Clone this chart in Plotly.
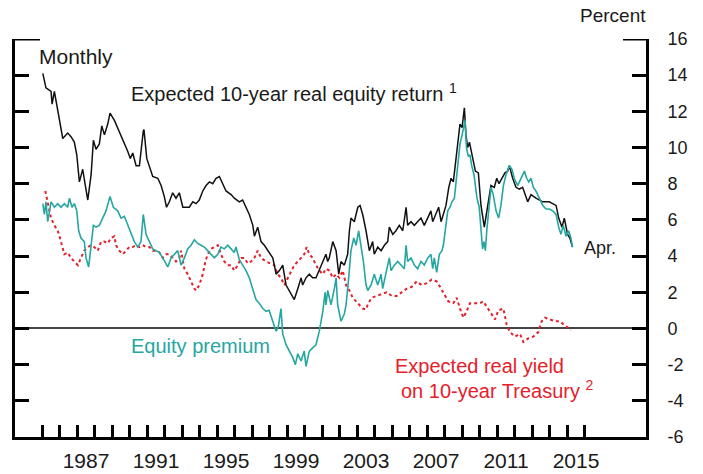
import plotly.graph_objects as go

# ---- Data (decimal years, percent) ----
equity_years = [
    1985.03, 1985.21, 1985.50, 1985.56, 1985.69, 1985.88, 1986.01, 1986.17, 1986.45, 1986.64,
    1986.83, 1986.97, 1987.12, 1987.31, 1987.46, 1987.60, 1987.79, 1987.92, 1988.07, 1988.26,
    1988.40, 1988.55, 1988.74, 1988.87, 1989.12, 1989.40, 1989.69, 1989.88, 1990.03, 1990.17,
    1990.36, 1990.55, 1990.77, 1990.81, 1990.97, 1991.12, 1991.31, 1991.60, 1991.79, 1991.97,
    1992.10, 1992.26, 1992.45, 1992.64, 1992.83, 1993.03, 1993.21, 1993.40, 1993.60, 1993.79,
    1993.97, 1994.17, 1994.36, 1994.55, 1994.74, 1994.93, 1995.12, 1995.31, 1995.50, 1995.79,
    1995.97, 1996.26, 1996.45, 1996.64, 1996.83, 1997.03, 1997.12, 1997.31, 1997.44, 1997.50,
    1997.69, 1997.97, 1998.17, 1998.26, 1998.36, 1998.55, 1998.74, 1998.93, 1999.12, 1999.31,
    1999.40, 1999.60, 1999.79, 1999.88, 2000.07, 2000.26, 2000.45, 2000.64, 2000.83, 2001.03,
    2001.21, 2001.31, 2001.40, 2001.60, 2001.79, 2001.94, 2002.07, 2002.26, 2002.45, 2002.55,
    2002.64, 2002.83, 2003.03, 2003.16, 2003.31, 2003.50, 2003.69, 2003.88, 2003.97, 2004.17,
    2004.36, 2004.55, 2004.74, 2004.83, 2005.03, 2005.21, 2005.40, 2005.60, 2005.79, 2005.88,
    2006.07, 2006.26, 2006.45, 2006.64, 2006.83, 2007.03, 2007.21, 2007.31, 2007.50, 2007.65,
    2007.79, 2007.97, 2008.07, 2008.23, 2008.36, 2008.49, 2008.60, 2008.74, 2008.87, 2008.99,
    2009.12, 2009.21, 2009.31, 2009.41, 2009.60, 2009.75, 2009.92, 2010.07, 2010.26, 2010.45,
    2010.64, 2010.83, 2010.97, 2011.10, 2011.27, 2011.44, 2011.60, 2011.69, 2011.88, 2012.07,
    2012.26, 2012.45, 2012.74, 2012.93, 2013.21, 2013.60, 2013.97, 2014.36, 2014.51, 2014.70,
    2014.83, 2015.02, 2015.15, 2015.30,
]
equity_return = [
    14.1, 13.3, 13.1, 12.4, 13.1, 12.1, 11.4, 10.5, 10.8, 10.6,
    10.3, 9.6, 8.1, 8.8, 7.9, 7.1, 8.5, 10.4, 9.9, 10.2,
    11.2, 10.7, 11.3, 11.9, 11.5, 10.9, 10.2, 9.8, 9.4, 9.7,
    9.0, 9.0, 10.9, 11.0, 9.4, 8.9, 8.4, 8.3, 7.9, 7.3,
    6.7, 7.0, 7.5, 7.2, 7.5, 6.7, 6.7, 6.7, 7.0, 6.9,
    7.1, 7.6, 7.9, 8.1, 8.0, 8.3, 8.4, 8.0, 7.6, 7.4,
    7.2, 7.0, 7.1, 6.7, 6.3, 5.7, 5.1, 5.6, 5.1, 4.8,
    4.6, 4.2, 3.9, 3.5, 3.0, 3.2, 3.5, 2.4, 2.1, 1.8,
    1.6, 2.2, 2.8, 2.4, 2.8, 3.0, 2.8, 2.8, 3.2, 3.7,
    4.1, 3.7, 3.9, 4.8, 4.3, 3.0, 3.7, 3.5, 4.1, 5.4,
    6.1, 5.9, 6.7, 6.8, 6.3, 5.4, 4.3, 4.8, 4.1, 4.5,
    4.3, 4.6, 4.8, 5.6, 5.2, 5.4, 5.7, 5.4, 6.7, 5.7,
    5.9, 5.7, 5.9, 6.1, 5.7, 6.1, 6.5, 5.9, 6.3, 6.7,
    5.9, 6.5, 6.8, 7.8, 8.3, 8.1, 8.9, 10.2, 11.3, 11.1,
    12.2, 10.7, 10.0, 10.3, 9.4, 8.7, 8.6, 6.8, 5.6, 6.8,
    7.9, 7.8, 8.3, 8.0, 8.3, 8.6, 8.7, 9.0, 8.3, 7.8,
    7.7, 7.8, 7.0, 7.4, 7.2, 7.0, 7.0, 6.8, 6.1, 5.6,
    6.1, 5.2, 5.0, 4.5,
]

premium_years = [
    1985.03, 1985.12, 1985.21, 1985.31, 1985.50, 1985.69, 1985.88, 1986.07, 1986.26, 1986.45,
    1986.55, 1986.70, 1986.83, 1986.97, 1987.08, 1987.21, 1987.40, 1987.50, 1987.65, 1987.79,
    1987.92, 1988.07, 1988.26, 1988.45, 1988.64, 1988.87, 1989.06, 1989.31, 1989.50, 1989.69,
    1989.88, 1990.07, 1990.26, 1990.45, 1990.64, 1990.77, 1990.93, 1991.12, 1991.31, 1991.50,
    1991.69, 1991.88, 1992.17, 1992.36, 1992.55, 1992.74, 1992.93, 1993.12, 1993.31, 1993.50,
    1993.69, 1993.88, 1994.07, 1994.26, 1994.45, 1994.64, 1994.83, 1995.03, 1995.21, 1995.40,
    1995.60, 1995.79, 1995.97, 1996.07, 1996.26, 1996.45, 1996.64, 1996.83, 1997.03, 1997.21,
    1997.39, 1997.60, 1997.79, 1997.96, 1998.17, 1998.36, 1998.49, 1998.64, 1998.74, 1998.93,
    1999.12, 1999.31, 1999.46, 1999.60, 1999.79, 1999.97, 2000.07, 2000.26, 2000.45, 2000.64,
    2000.83, 2001.03, 2001.16, 2001.21, 2001.31, 2001.50, 2001.69, 2001.79, 2001.88, 2002.07,
    2002.26, 2002.36, 2002.51, 2002.64, 2002.80, 2002.93, 2003.08, 2003.21, 2003.35, 2003.50,
    2003.60, 2003.79, 2003.97, 2004.17, 2004.36, 2004.45, 2004.64, 2004.83, 2004.93, 2005.12,
    2005.31, 2005.50, 2005.69, 2005.79, 2005.88, 2006.07, 2006.26, 2006.45, 2006.64, 2006.83,
    2007.03, 2007.21, 2007.31, 2007.40, 2007.54, 2007.69, 2007.84, 2007.92, 2008.03, 2008.17,
    2008.30, 2008.41, 2008.55, 2008.64, 2008.74, 2008.87, 2008.99, 2009.08, 2009.16, 2009.24,
    2009.35, 2009.44, 2009.54, 2009.67, 2009.84, 2009.97, 2010.07, 2010.16, 2010.24, 2010.32,
    2010.40, 2010.51, 2010.64, 2010.77, 2010.93, 2011.08, 2011.21, 2011.35, 2011.50, 2011.69,
    2011.84, 2011.97, 2012.17, 2012.36, 2012.55, 2012.68, 2012.80, 2012.93, 2013.06, 2013.21,
    2013.40, 2013.60, 2013.79, 2013.97, 2014.17, 2014.36, 2014.51, 2014.64, 2014.77, 2014.93,
    2015.08, 2015.21, 2015.30,
]
equity_premium = [
    6.9, 6.3, 7.0, 5.9, 7.0, 6.7, 6.9, 6.7, 6.9, 6.7,
    7.2, 6.7, 6.9, 6.5, 5.4, 5.0, 4.8, 3.9, 3.4, 4.6,
    5.7, 5.6, 5.7, 6.1, 6.5, 7.3, 6.7, 6.5, 6.1, 6.2,
    5.7, 5.2, 4.8, 4.5, 4.8, 6.3, 5.2, 4.8, 4.4, 4.3,
    4.2, 3.9, 3.4, 3.9, 4.1, 4.3, 3.5, 3.9, 4.4, 4.6,
    4.9, 4.7, 4.6, 4.5, 4.3, 4.1, 3.9, 4.1, 4.5, 4.4,
    4.6, 4.4, 4.2, 4.5, 3.8, 3.5, 3.2, 2.8, 2.2, 1.6,
    1.4, 1.1, 0.95, 1.0, 0.4, -0.15, 0.1, 1.1, -0.3, -0.9,
    -1.25, -1.6, -2.0, -1.4, -1.8, -1.25, -2.1, -1.25, -1.07, -0.9,
    -0.15, 0.95, 2.0, 1.3, 2.1, 1.3, 2.2, 2.8, 1.3, 0.4,
    0.8, 1.3, 2.8, 4.3, 5.0, 4.6, 5.4, 4.6, 3.7, 2.4,
    2.1, 2.4, 3.0, 2.4, 3.0, 2.2, 3.0, 3.9, 3.2, 3.5,
    3.7, 3.5, 3.3, 4.6, 3.7, 3.9, 3.5, 3.3, 3.7, 3.5,
    3.9, 4.1, 3.3, 3.9, 3.1, 4.1, 4.3, 4.6, 5.6, 6.5,
    6.7, 7.0, 7.2, 8.1, 9.0, 10.2, 10.7, 11.1, 11.5, 10.0,
    9.5, 9.6, 9.0, 8.5, 7.2, 6.7, 5.4, 4.4, 4.8, 4.3,
    5.4, 6.5, 7.8, 7.4, 6.5, 6.1, 6.8, 7.9, 8.5, 9.0,
    8.8, 8.3, 7.9, 8.3, 8.7, 8.3, 8.1, 8.3, 7.8, 7.6,
    7.2, 6.8, 6.6, 6.6, 6.5, 6.3, 5.6, 5.2, 5.7, 5.1,
    5.4, 5.0, 4.5,
]

yield_years = [
    1985.17, 1985.31, 1985.50, 1985.69, 1985.88, 1986.01, 1986.17, 1986.26, 1986.45, 1986.64,
    1986.83, 1987.03, 1987.21, 1987.40, 1987.60, 1987.79, 1987.97, 1988.17, 1988.36, 1988.55,
    1988.74, 1988.93, 1989.12, 1989.21, 1989.40, 1989.60, 1989.79, 1989.97, 1990.17, 1990.36,
    1990.55, 1990.74, 1990.93, 1991.12, 1991.31, 1991.50, 1991.69, 1991.88, 1992.07, 1992.26,
    1992.45, 1992.64, 1992.83, 1992.93, 1993.12, 1993.31, 1993.50, 1993.69, 1993.79, 1993.97,
    1994.17, 1994.32, 1994.45, 1994.64, 1994.83, 1995.03, 1995.21, 1995.40, 1995.60, 1995.79,
    1995.97, 1996.17, 1996.36, 1996.55, 1996.74, 1996.93, 1997.12, 1997.31, 1997.50, 1997.79,
    1998.01, 1998.26, 1998.45, 1998.64, 1998.83, 1999.03, 1999.21, 1999.40, 1999.60, 1999.79,
    1999.97, 2000.11, 2000.26, 2000.45, 2000.64, 2000.83, 2001.03, 2001.21, 2001.40, 2001.60,
    2001.79, 2001.97, 2002.17, 2002.36, 2002.55, 2002.74, 2002.93, 2003.12, 2003.31, 2003.50,
    2003.63, 2003.83, 2004.11, 2004.40, 2004.68, 2004.97, 2005.25, 2005.54, 2005.83, 2006.11,
    2006.40, 2006.68, 2006.97, 2007.25, 2007.54, 2007.73, 2008.01, 2008.20, 2008.49, 2008.68,
    2008.87, 2009.06, 2009.25, 2009.44, 2009.73, 2010.01, 2010.20, 2010.40, 2010.68, 2010.87,
    2011.06, 2011.35, 2011.54, 2011.73, 2012.01, 2012.30, 2012.49, 2012.77, 2013.06, 2013.35,
    2013.54, 2013.73, 2014.01, 2014.30, 2014.59, 2014.87, 2015.06, 2015.20,
]
real_yield = [
    7.6, 7.0, 6.1, 5.7, 5.4, 5.0, 4.5, 4.1, 4.2, 3.9,
    3.7, 3.5, 3.9, 4.3, 4.5, 4.6, 4.5, 4.3, 4.8, 4.8,
    4.7, 5.0, 5.1, 4.6, 4.3, 4.1, 4.3, 4.5, 4.5, 4.6,
    4.5, 4.6, 4.5, 4.5, 4.3, 4.3, 4.2, 3.9, 4.1, 4.1,
    3.9, 3.7, 3.9, 4.3, 3.3, 3.0, 2.6, 2.2, 2.1, 2.4,
    3.0, 3.7, 4.1, 4.4, 4.5, 4.6, 4.1, 3.7, 3.5, 3.5,
    3.2, 3.5, 3.9, 3.9, 3.6, 3.7, 3.9, 4.3, 3.9, 3.7,
    3.6, 3.5, 3.0, 2.8, 2.4, 2.8, 3.2, 3.5, 3.7, 3.9,
    4.1, 4.5, 4.1, 3.9, 3.5, 3.2, 3.0, 3.3, 3.2, 2.8,
    3.0, 2.8, 3.2, 2.4, 2.1, 1.7, 1.5, 1.3, 1.1, 1.05,
    1.4, 1.7, 1.8, 1.9, 2.0, 1.8, 1.8, 2.0, 2.2, 2.3,
    2.6, 2.4, 2.5, 2.7, 2.6, 2.3, 1.8, 1.5, 1.4, 1.7,
    1.1, 0.6, 0.95, 1.4, 1.4, 1.4, 1.5, 1.2, 0.8, 0.5,
    1.0, 1.1, 0.2, -0.2, -0.45, -0.3, -0.75, -0.55, -0.45, -0.2,
    0.4, 0.6, 0.5, 0.4, 0.4, 0.15, 0.04, -0.1,
]

tick_years = list(range(1985, 2017))
label_years = list(range(1987, 2016, 4))
y_ticks = list(range(-6, 17, 2))
y_tick_text = [str(v) for v in y_ticks]

# ---- Geometry helpers (figure pixels -> paper coordinates) ----
W, H = 703, 474
L, R, T, B = 15, 57, 39, 37
PW, PH = W - L - R, H - T - B


def px(x):
    return (x - L) / PW


def py(y):
    return (H - B - y) / PH


FONT = "Liberation Sans, Arial, sans-serif"
INK = "#1a1a1a"
TEAL = "#26a6a1"
RED = "#e5202b"

fig = go.Figure()

fig.add_trace(go.Scatter(
    x=yield_years, y=real_yield, mode="lines",
    line=dict(color=RED, width=2, dash="dot"),
    name="Expected real yield on 10-year Treasury",
))
fig.add_trace(go.Scatter(
    x=equity_years, y=equity_return, mode="lines",
    line=dict(color="#111111", width=1.5),
    name="Expected 10-year real equity return",
))
fig.add_trace(go.Scatter(
    x=premium_years, y=equity_premium, mode="lines",
    line=dict(color=TEAL, width=1.6),
    name="Equity premium",
))

fig.update_layout(
    width=W, height=H,
    margin=dict(l=L, r=R, t=T, b=B, pad=0, autoexpand=False),
    paper_bgcolor="white", plot_bgcolor="white",
    showlegend=False,
    font=dict(family=FONT, color=INK),
    xaxis=dict(
        range=[1983.44, 2019.5],
        automargin=False,
        showgrid=False, zeroline=False,
        showline=True, linecolor="black", linewidth=3,
        tickmode="array",
        tickvals=[y + 0.5 for y in label_years],
        ticktext=[str(y) for y in label_years],
        ticks="",
        tickfont=dict(size=21, color=INK),
        ticklabelstandoff=3,
        minor=dict(
            tickmode="array", tickvals=tick_years,
            ticks="inside", ticklen=12, tickwidth=3, tickcolor="black",
            showgrid=False,
        ),
    ),
    yaxis=dict(
        range=[-6, 16],
        automargin=False,
        side="right",
        showgrid=False,
        zeroline=True, zerolinecolor="#444444", zerolinewidth=2,
        showline=True, linecolor="black", linewidth=3, mirror="ticks",
        tickmode="array", tickvals=y_ticks, ticktext=y_tick_text,
        ticks="inside", ticklen=14, tickwidth=3, tickcolor="black",
        tickfont=dict(size=18, color=INK),
        ticklabelstandoff=15,
    ),
)

# Longer caps at the top of both vertical axes
fig.add_shape(type="line", xref="paper", yref="y", x0=0, x1=px(40), y0=16, y1=16,
              line=dict(color="black", width=3))
fig.add_shape(type="line", xref="paper", yref="y", x0=px(623), x1=1, y0=16, y1=16,
              line=dict(color="black", width=3))

notes = [
    dict(text="Monthly", x=px(37), y=py(57), size=21, color=INK),
    dict(text="Expected 10-year real equity return <sup>1</sup>", x=px(129), y=py(92.5), size=20, color=INK),
    dict(text="Percent", x=px(578), y=py(16), size=19, color=INK),
    dict(text="Equity premium", x=px(129), y=py(346), size=20, color=TEAL),
    dict(text="Expected real yield", x=px(392.5), y=py(366), size=20, color=RED),
    dict(text="on 10-year Treasury <sup>2</sup>", x=px(398.5), y=py(389.5), size=20, color=RED),
    dict(text="Apr.", x=px(582), y=py(247.5), size=18, color=INK),
]
for n in notes:
    fig.add_annotation(
        text=n["text"], x=n["x"], y=n["y"], xref="paper", yref="paper",
        xanchor="left", yanchor="middle", showarrow=False,
        font=dict(size=n["size"], color=n["color"], family=FONT),
    )

fig.write_html("out.html")
